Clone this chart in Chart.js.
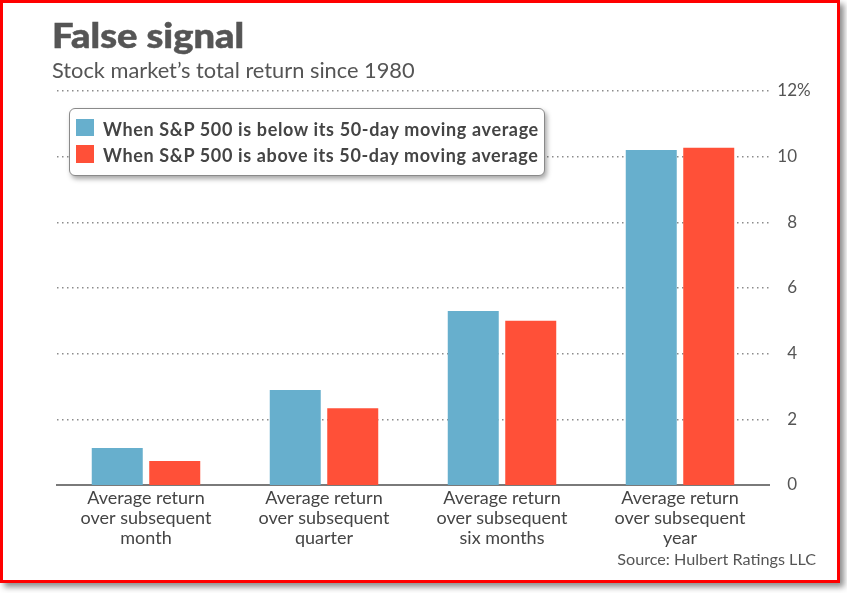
<!DOCTYPE html>
<html>
<head>
<meta charset="utf-8">
<script src="https://cdn.jsdelivr.net/npm/chart.js@4.4.1/dist/chart.umd.min.js"></script>
<style>
  html, body { margin:0; padding:0; background:#fff; width:847px; height:593px; overflow:hidden; }
  #frame { position:absolute; left:0; top:0; width:834px; height:577px; border:3px solid #ff0000;
           background:#fff; box-shadow:4px 4px 6px rgba(0,0,0,0.45); }
  .t { position:absolute; font-family:Lato, "Open Sans", sans-serif; white-space:nowrap; line-height:1; }
  #title { left:52px; top:18px; font-size:34px; font-weight:900; color:#555; transform:scaleX(1.12); transform-origin:0 0;
           -webkit-text-stroke:0.5px #555; }
  #subtitle { left:52px; top:59px; font-size:21.8px; color:#555; }
  #source { right:31px; top:550.8px; font-size:16.2px; color:#555; }
  #chartwrap { position:absolute; left:0; top:0; width:847px; height:593px; }
  #legend { position:absolute; left:69px; top:108px; width:474px; height:66px; border:1.5px solid #8a8a8a;
            border-radius:6px; background:#fff; box-shadow:2px 3px 5px rgba(0,0,0,0.35); }
  .sw { position:absolute; width:18px; height:17.5px; }
  .lt { position:absolute; font-family:Lato, "Open Sans", sans-serif; font-size:18px; font-weight:700; color:#444;
        line-height:1; white-space:nowrap; letter-spacing:0.64px; }
</style>
</head>
<body>
<div id="frame"></div>
<div id="chartwrap"><canvas id="c" width="847" height="593"></canvas></div>
<div id="title" class="t">False signal</div>
<div id="subtitle" class="t">Stock market’s total return since 1980</div>
<div id="source" class="t">Source: Hulbert Ratings LLC</div>
<div id="legend"></div>
<script>
const categories = [
  ["Average return", "over subsequent", "month"],
  ["Average return", "over subsequent", "quarter"],
  ["Average return", "over subsequent", "six months"],
  ["Average return", "over subsequent", "year"]
];
const seriesNames = [
  "When S&P 500 is below its 50-day moving average",
  "When S&P 500 is above its 50-day moving average"
];
const belowValues = [1.13, 2.89, 5.30, 10.20];
const aboveValues = [0.73, 2.34, 5.00, 10.27];
const yTickValues = [0, 2, 4, 6, 8, 10, 12];
const colors = ["#67afcd", "#ff5038"];

// HTML legend built from the series names/colours
const legend = document.getElementById('legend');
seriesNames.forEach((name, i) => {
  const sw = document.createElement('div');
  sw.className = 'sw';
  sw.style.left = '6px';
  sw.style.top = (9.5 + i * 26.7) + 'px';
  sw.style.background = colors[i];
  legend.appendChild(sw);
  const lt = document.createElement('div');
  lt.className = 'lt';
  lt.style.left = '33px';
  lt.style.top = (10.5 + i * 26.7) + 'px';
  lt.textContent = name;
  legend.appendChild(lt);
});

const percentPlugin = {
  id: 'percent',
  afterDraw(chart) {
    const y = chart.scales.y;
    const ctx = chart.ctx;
    const max = yTickValues[yTickValues.length - 1];
    const items = y.getLabelItems();
    const idx = y.ticks.findIndex(t => t.value === max);
    const item = items[idx];
    if (!item) return;
    const x = item.options.translation[0];
    ctx.save();
    ctx.font = '17px Lato, "Open Sans", sans-serif';
    ctx.fillStyle = '#555';
    ctx.textAlign = 'left';
    ctx.textBaseline = 'middle';
    ctx.fillText('%', x, y.getPixelForValue(max));
    ctx.restore();
  }
};

new Chart(document.getElementById('c'), {
  type: 'bar',
  data: {
    labels: categories,
    datasets: [
      { label: seriesNames[0], data: belowValues, backgroundColor: colors[0], categoryPercentage: 0.646, barPercentage: 0.887 },
      { label: seriesNames[1], data: aboveValues, backgroundColor: colors[1], categoryPercentage: 0.646, barPercentage: 0.887 }
    ]
  },
  options: {
    responsive: false,
    animation: false,
    layout: { padding: { left: 57, top: 91, right: 50, bottom: 28 } },
    plugins: { legend: { display: false }, title: { display: false }, tooltip: { enabled: false } },
    scales: {
      x: {
        grid: { display: false, drawTicks: false },
        border: { display: true, color: '#7a7a7a', width: 2 },
        ticks: {
          color: '#444', padding: 3, maxRotation: 0, autoSkip: false,
          font: { family: 'Lato, "Open Sans", sans-serif', size: 18, lineHeight: 1.111 }
        },
        afterFit(scale) { scale.height = 80; }
      },
      y: {
        position: 'right',
        min: 0, max: 12,
        afterBuildTicks(scale) { scale.ticks = yTickValues.map(v => ({ value: v })); },
        grid: {
          drawTicks: false,
          tickLength: 0,
          color: '#8c8c8c',
          lineWidth: (ctx) => (ctx.tick && ctx.tick.value === 0 ? 0 : 1.5)
        },
        border: { display: false, dash: [1.5, 3.5] },
        ticks: {
          color: '#555', padding: 9, crossAlign: 'far',
          font: { family: 'Lato, "Open Sans", sans-serif', size: 17 },
          callback: (v) => String(v)
        },
        afterFit(scale) { scale.width = 28; }
      }
    }
  },
  plugins: [percentPlugin]
});
</script>
</body>
</html>
